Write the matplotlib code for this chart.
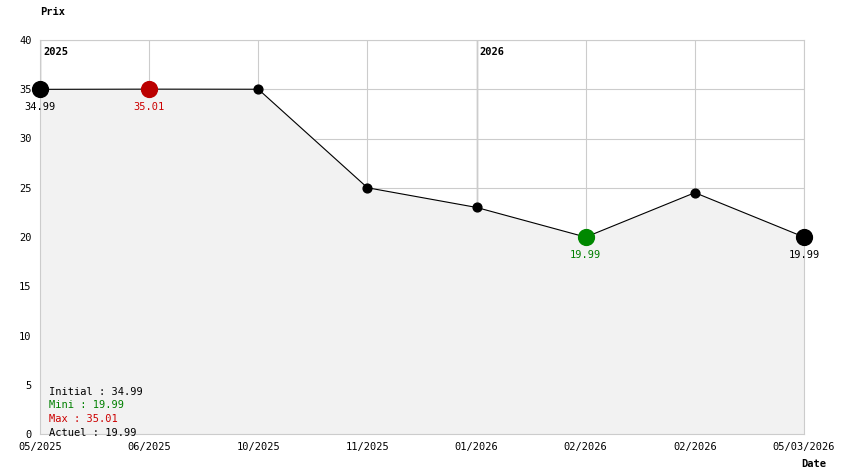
import matplotlib
matplotlib.use('Agg')
import matplotlib.pyplot as plt

# données
dates = ['05/2025', '06/2025', '10/2025', '11/2025', '01/2026', '02/2026', '02/2026', '05/03/2026']
prix = [34.99, 35.01, 35.0, 25.0, 23.0, 19.99, 24.5, 19.99]
annees = [(0, '2025'), (4, '2026')]
legende = [('Initial : 34.99', 'black'), ('Mini : 19.99', 'green'),
           ('Max : 35.01', '#cc0000'), ('Actuel : 19.99', 'black')]

plt.rcParams['font.family'] = 'DejaVu Sans Mono'
plt.rcParams['font.size'] = 7.5

fig = plt.figure(figsize=(8.44, 4.74), dpi=100)
ax = fig.add_axes([40/844, 40/474, 764/844, 394/474])
x = list(range(len(prix)))

# la zone grise cache la grille et les lignes d'année
ax.fill_between(x, prix, 0, color='#f2f2f2', zorder=2)
ax.plot(x, prix, color='black', lw=0.8, zorder=3)
ax.scatter(x, prix, s=40, color='black', zorder=4, clip_on=False)
ax.scatter([0, 7], [prix[0], prix[7]], s=130, color='black', zorder=5, clip_on=False)
ax.scatter([1], [prix[1]], s=130, color='#bb0000', zorder=5)
ax.scatter([5], [prix[5]], s=130, color='#008800', zorder=5)

ax.text(0, prix[0] - 1.3, '34.99', ha='center', va='top', color='black', zorder=6)
ax.text(1, prix[1] - 1.3, '35.01', ha='center', va='top', color='#cc0000', zorder=6)
ax.text(5, prix[5] - 1.3, '19.99', ha='center', va='top', color='green', zorder=6)
ax.text(7, prix[7] - 1.3, '19.99', ha='center', va='top', color='black', zorder=6)

for i, a in annees:
    ax.axvline(i, color='#777777', lw=0.9, zorder=1.5)
    ax.text(i + 0.03, 38.3, a, fontweight='bold', va='bottom', ha='left')

ax.set_xlim(0, 7)
ax.set_ylim(0, 40)
ax.set_xticks(x)
ax.set_xticklabels(dates)
ax.set_yticks(range(0, 41, 5))
ax.grid(True, color='#cccccc', lw=0.8, zorder=1)
for s in ax.spines.values():
    s.set_color('#cccccc')
ax.tick_params(length=0, pad=6)

for k, (t, c) in enumerate(legende):
    ax.text(0.08, 4.3 - k * 1.4, t, color=c, va='center', zorder=6)

fig.text(40/844, 1 - 12/474, 'Prix', fontweight='bold', va='center')
fig.text(1 - 30/844, 1 - 464/474, 'Date', fontweight='bold', va='center', ha='center')

fig.savefig('out.png', dpi=100)
